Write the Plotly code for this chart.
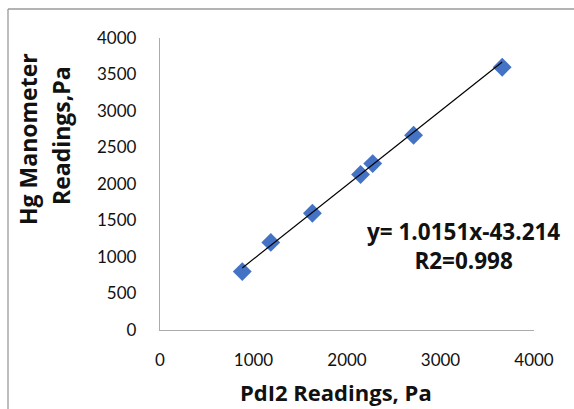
import plotly.graph_objects as go

# PdI2 gauge readings vs. mercury manometer readings (Pa)
pdi2_readings = [880, 1185, 1630, 2145, 2275, 2712, 3660]
hg_readings = [800, 1200, 1600, 2130, 2280, 2668, 3600]

# Linear fit reported for the calibration
slope = 1.0151
intercept = -43.214
r_squared = 0.998

x_ticks = [0, 1000, 2000, 3000, 4000]
y_ticks = [0, 500, 1000, 1500, 2000, 2500, 3000, 3500, 4000]

W, H = 574, 409
ML, MR, MT, MB = 160, 40, 38, 79
PW, PH = W - ML - MR, H - MT - MB


def px(xp):
    return (xp - ML) / PW


def py(yp):
    return (H - MB - yp) / PH


fit_x = [min(pdi2_readings), max(pdi2_readings)]
fit_y = [slope * v + intercept for v in fit_x]

fig = go.Figure()
fig.add_trace(go.Scatter(
    x=pdi2_readings, y=hg_readings, mode="markers",
    marker=dict(symbol="diamond", size=14.5, color="#4472C4", line=dict(width=0)),
    showlegend=False, cliponaxis=False,
))
fig.add_trace(go.Scatter(
    x=fit_x, y=fit_y, mode="lines",
    line=dict(color="black", width=1.2),
    showlegend=False,
))

TICK_FONT = "Lato, 'Open Sans', sans-serif"
TITLE_FONT = "'Open Sans', Lato, sans-serif"
axis_common = dict(
    showgrid=False, zeroline=False, showline=True,
    linecolor="#ababab", linewidth=1.3, ticks="",
    tickfont=dict(family=TICK_FONT, size=17, color="#111111"),
)
fig.update_xaxes(range=[0, 4000], tickvals=x_ticks, ticklabelstandoff=14, **axis_common)
fig.update_yaxes(range=[0, 4000], tickvals=y_ticks, ticklabelstandoff=19, **axis_common)


def bold(size):
    return dict(family=TITLE_FONT, size=size, color="#111111", weight="bold")


equation = f"y= {slope}x{intercept:+.3f}".replace("+", "")
fit_label = f"{equation}<br>R2={r_squared}"
annotations = [
    dict(x=px(336), y=py(392), text="PdI2 Readings, Pa", font=bold(22)),
    dict(x=px(28), y=py(139), text="Hg Manometer", textangle=-90, font=bold(23)),
    dict(x=px(61), y=py(136), text="Readings,Pa", textangle=-90, font=bold(23)),
    dict(x=px(463), y=py(246), text=fit_label, font=bold(22.5)),
]
for a in annotations:
    fig.add_annotation(xref="paper", yref="paper", showarrow=False,
                       xanchor="center", yanchor="middle", align="center", **a)

# Chart-area frame (left and top edges fall inside the page)
frame = dict(type="line", xref="paper", yref="paper",
             line=dict(color="#9a9a9a", width=1.3))
fig.add_shape(x0=px(8), x1=px(8), y0=py(9), y1=py(H + 5), **frame)
fig.add_shape(x0=px(8), x1=px(W + 5), y0=py(9), y1=py(9), **frame)

fig.update_layout(
    width=W, height=H,
    margin=dict(l=ML, r=MR, t=MT, b=MB, pad=0),
    paper_bgcolor="white", plot_bgcolor="white",
)

fig.write_html("out.html", config={"displayModeBar": False})
